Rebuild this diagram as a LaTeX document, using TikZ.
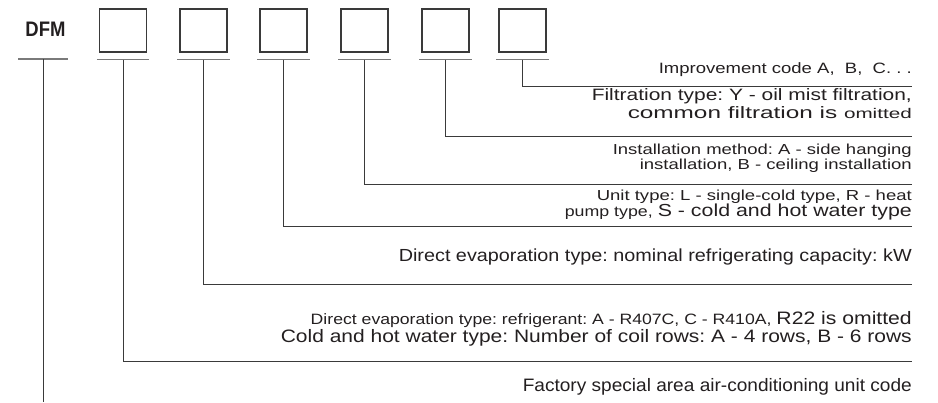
\documentclass[tikz,border=0pt]{standalone}
\usepackage{fontspec}
\setmainfont{Liberation Sans}
\usepackage{graphicx}
\frenchspacing
\newcommand{\fitw}[3]{\resizebox{#1pt}{\height}{\fontsize{#2pt}{#2pt}\selectfont #3}}
\definecolor{txt}{HTML}{231F20}
\definecolor{lin}{HTML}{3A3A3A}
\definecolor{ul}{HTML}{7A7A7A}
\begin{document}
\begin{tikzpicture}[x=1pt,y=-1pt,
  codebox/.style={draw=lin,line width=1.1pt,minimum width=47pt,minimum height=43pt,inner sep=0pt},
  uline/.style={draw=ul,line width=1.8pt},
  conn/.style={draw=lin,line width=0.9pt},
  lbl/.style={text=txt,inner sep=0pt,anchor=base east}]
\useasboundingbox (0,0) rectangle (938,403);
% header
\node[text=txt,inner sep=0pt] (dfm) at (45.5,29.5) {\scalebox{0.88}[1]{\fontsize{21pt}{21pt}\selectfont\bfseries DFM}};
\foreach \i/\x in {1/123,2/203.5,3/283.5,4/364.5,5/445.5,6/522.5}{
  \node[codebox] (b\i) at (\x,30.5) {};
  \draw[uline] ([xshift=-2pt,yshift=-7pt]b\i.south west) -- ([xshift=2pt,yshift=-7pt]b\i.south east);
  \coordinate (u\i) at ([yshift=-7pt]b\i.south);
}
\draw[uline] (18,59) -- (68,59);
\coordinate (u0) at (43,59);
% right ends of connectors
\coordinate (e6) at (912,86);
\coordinate (e5) at (912,136);
\coordinate (e4) at (912,184);
\coordinate (e3) at (912,226);
\coordinate (e2) at (912,284);
\coordinate (e1) at (912,361);
\coordinate (e0) at (u0 |- 0,402);
% connectors
\foreach \i in {1,...,6}{
  \draw[conn] (u\i) |- (e\i);
}
\draw[conn] (u0) -- (e0);
% labels
\node[lbl] (t6) at (912,74) {\fitw{253}{15}{Improvement code A,\ \ B,\ \ C. . .}};
\node[lbl] (t5a) at (912,101) {\fitw{320}{16.5}{Filtration type: Y - oil mist filtration,}};
\node[lbl] (t5b) at (912,119) {\fitw{284}{16.5}{common filtration is \scalebox{0.85}{omitted}}};
\node[lbl] (t4a) at (912,155) {\fitw{299}{14.5}{Installation method: A - side hanging}};
\node[lbl] (t4b) at (912,170) {\fitw{272}{14.5}{installation, B - ceiling installation}};
\node[lbl] (t3a) at (912,201) {\fitw{315}{14.5}{Unit type: L - single-cold type, R - heat}};
\node[lbl] (t3b) at (912,217) {\fitw{347}{14.5}{pump type, \scalebox{1.2}{S - cold and hot water type}}};
\node[lbl] (t2) at (912,262) {\fitw{513}{17.5}{Direct evaporation type: nominal refrigerating capacity: kW}};
\node[lbl] (t1a) at (912,325) {\fitw{601}{15}{Direct evaporation type: refrigerant: A - R407C, C - R410A, \scalebox{1.2}{R22 is omitted}}};
\node[lbl] (t1b) at (912,343) {\fitw{631}{18}{Cold and hot water type: Number of coil rows: A - 4 rows, B - 6 rows}};
\node[lbl] (t0) at (912,392) {\fitw{389}{18}{Factory special area air-conditioning unit code}};
\end{tikzpicture}
\end{document}
